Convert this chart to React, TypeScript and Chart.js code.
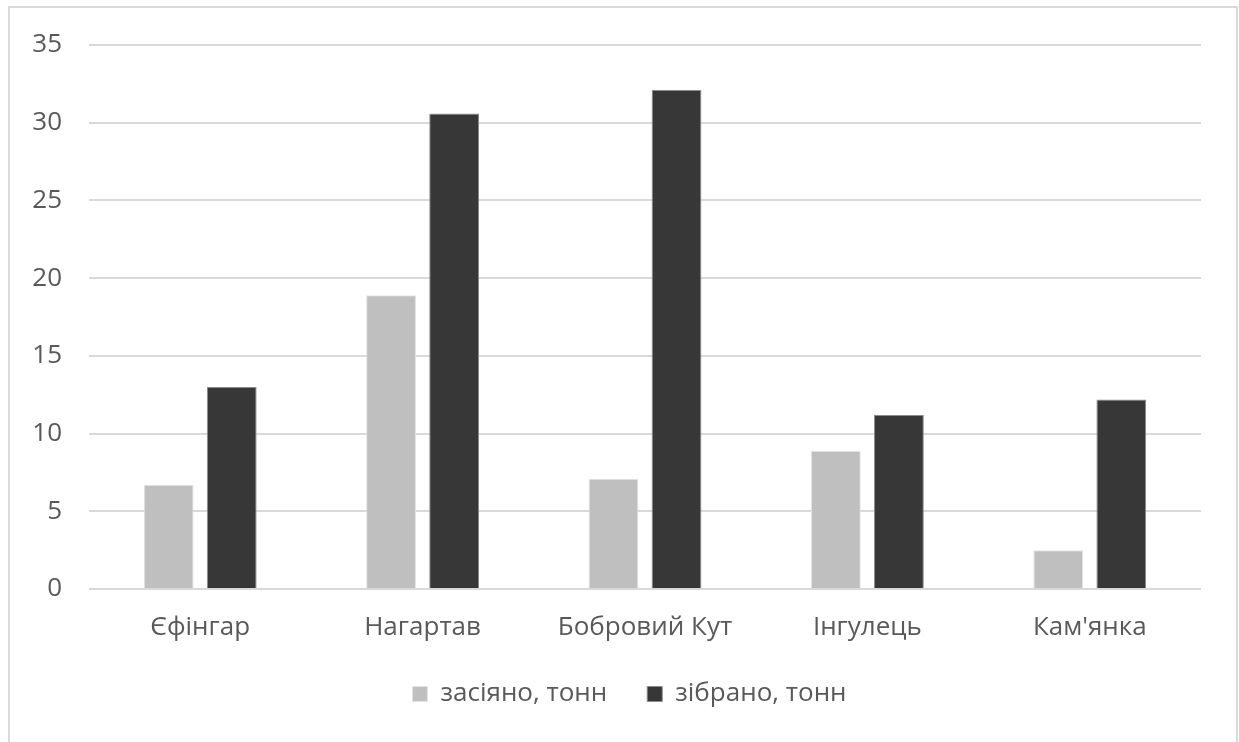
import React, { useEffect, useRef } from "react";
import { Chart, registerables } from "chart.js";

Chart.register(...registerables);

const categories = ["Єфінгар", "Нагартав", "Бобровий Кут", "Інгулець", "Кам'янка"];
const sownLabel = "засіяно, тонн";
const harvestedLabel = "зібрано, тонн";
const sown = [6.7, 18.9, 7.1, 8.9, 2.5];
const harvested = [13.0, 30.6, 32.1, 11.2, 12.2];
const yMin = 0;
const yMax = 35;
const yStep = 5;

const FONT = "'Open Sans', 'Noto Sans', sans-serif";
const TEXT = "#595959";
const FS = 26;

const shiftLegend = {
  id: "shiftLegend",
  afterLayout(chart: any) {
    const lg = chart.legend;
    if (lg) {
      lg.left += 24;
      lg.right += 24;
    }
  },
};

export default function App() {
  const ref = useRef<HTMLCanvasElement | null>(null);

  useEffect(() => {
    if (!ref.current) return;
    const chart = new Chart(ref.current, {
      type: "bar",
      data: {
        labels: categories,
        datasets: [
          {
            label: sownLabel,
            data: sown,
            backgroundColor: "#bfbfbf",
            borderColor: "#e4e4e4",
            borderWidth: 1,
            categoryPercentage: 0.567,
            barPercentage: 0.79,
          },
          {
            label: harvestedLabel,
            data: harvested,
            backgroundColor: "#373737",
            borderColor: "#8a8a8a",
            borderWidth: 1,
            categoryPercentage: 0.567,
            barPercentage: 0.79,
          },
        ],
      },
      plugins: [shiftLegend],
      options: {
        responsive: false,
        animation: false,
        layout: { padding: { left: 10, right: 38, top: 45, bottom: 25 } },
        plugins: {
          tooltip: { enabled: false },
          legend: {
            position: "bottom",
            labels: {
              color: TEXT,
              font: { family: FONT, size: FS },
              boxWidth: 15,
              boxHeight: 15,
              padding: 40,
            },
          },
        },
        scales: {
          x: {
            grid: { display: false, drawTicks: false },
            border: { display: false },
            ticks: {
              color: TEXT,
              font: { family: FONT, size: FS },
              padding: 23,
              maxRotation: 0,
            },
            afterFit: (s: any) => {
              s.height = 52;
            },
          },
          y: {
            min: yMin,
            max: yMax,
            grid: { color: "#d9d9d9", lineWidth: 2, drawTicks: false },
            border: { display: false },
            ticks: {
              stepSize: yStep,
              color: TEXT,
              font: { family: FONT, size: FS },
              padding: 27,
            },
            afterFit: (s: any) => {
              s.width = 79;
            },
          },
        },
      },
    });
    return () => chart.destroy();
  }, []);

  return (
    <div style={{ position: "fixed", left: 0, top: 0, width: 1239, height: 742, overflow: "hidden", background: "#fff" }}>
      <div
        style={{
          position: "absolute",
          left: 8,
          top: 6,
          width: 1226,
          height: 800,
          border: "2px solid #d9d9d9",
        }}
      />
      <canvas ref={ref} width={1239} height={742} style={{ position: "absolute", left: 0, top: 0 }} />
    </div>
  );
}
